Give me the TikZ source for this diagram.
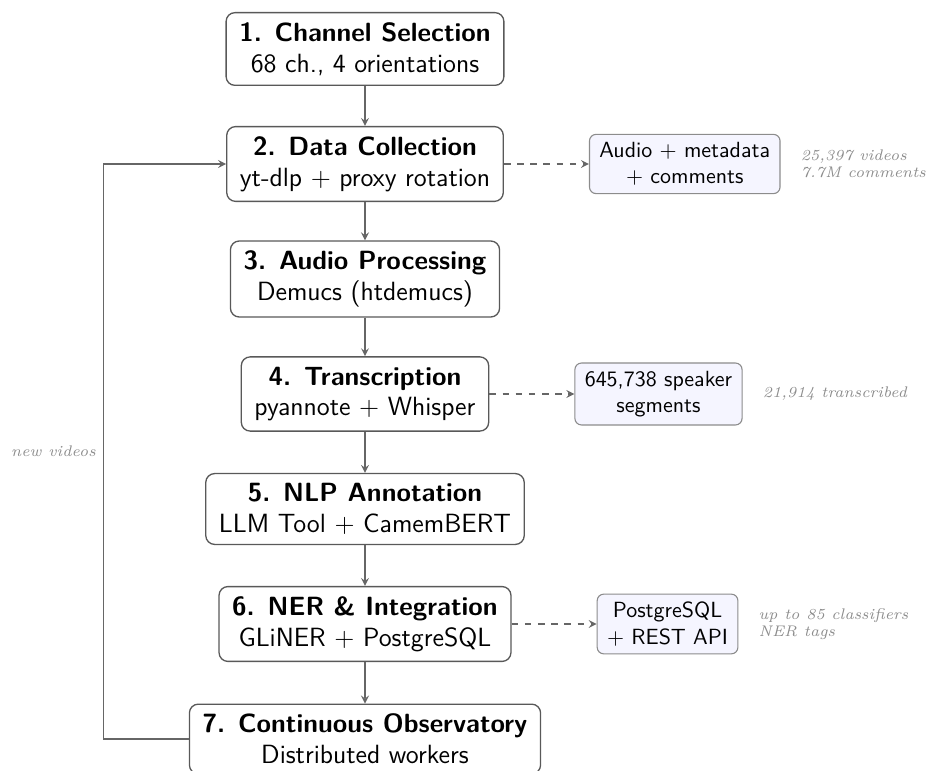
\documentclass[tikz,border=0pt]{standalone}
\usepackage{tikz}
\usetikzlibrary{positioning,arrows}

\begin{document}
\begin{tikzpicture}[node distance=1.84cm,
    every node/.style={align=center},
    stage/.style={draw=black!65, rounded corners=4pt, fill=white, font=\sffamily\large, inner xsep=6pt, inner ysep=4.5pt, line width=0.6pt},
    output/.style={draw=black!45, rounded corners=3pt, fill=blue!4, font=\sffamily, inner xsep=4.5pt, inner ysep=3.6pt, line width=0.5pt},
    note/.style={text=black!45, font=\scriptsize\itshape, align=left},
    flow/.style={->, >=stealth, draw=black!60, line width=0.6pt},
    side/.style={flow, dashed}]

  \useasboundingbox (0,0) rectangle (14.976,-12.336);

  % pipeline stages
  \node[stage] (sel) at (5.84,-0.784) {\textbf{1. Channel Selection}\\68 ch., 4 orientations};
  \node[stage, below of=sel] (coll) {\textbf{2. Data Collection}\\yt-dlp $+$ proxy rotation};
  \node[stage, below of=coll] (audio) {\textbf{3. Audio Processing}\\Demucs (htdemucs)};
  \node[stage, below of=audio] (trans) {\textbf{4. Transcription}\\pyannote $+$ Whisper};
  \node[stage, below of=trans] (nlp) {\textbf{5. NLP Annotation}\\LLM Tool $+$ CamemBERT};
  \node[stage, below of=nlp] (ner) {\textbf{6. NER \& Integration}\\GLiNER $+$ PostgreSQL};
  \node[stage, below of=ner] (obs) {\textbf{7. Continuous Observatory}\\Distributed workers};

  % outputs and figures
  \node[output, right=1.36cm of coll] (media) {Audio $+$ metadata\\$+$ comments};
  \node[output, right=1.36cm of trans] (segs) {645,738 speaker\\segments};
  \node[output, right=1.36cm of ner] (db) {PostgreSQL\\$+$ REST API};
  \node[note, right=0.2cm of media] (medianote) {25,397 videos\\7.7M comments};
  \node[note, right=0.2cm of segs] (segsnote) {21,914 transcribed};
  \node[note, right=0.2cm of db] (dbnote) {up to 85 classifiers\\NER tags};

  \draw[flow] (sel) -- (coll);
  \draw[flow] (coll) -- (audio);
  \draw[flow] (audio) -- (trans);
  \draw[flow] (trans) -- (nlp);
  \draw[flow] (nlp) -- (ner);
  \draw[flow] (ner) -- (obs);

  \draw[side] (coll) -- (media);
  \draw[side] (trans) -- (segs);
  \draw[side] (ner) -- (db);

  % feedback loop
  \draw[flow] (obs.west) -- ++(-1.36,0) |- (coll.west) node[note, pos=0.25, left] {new videos};

\end{tikzpicture}
\end{document}
